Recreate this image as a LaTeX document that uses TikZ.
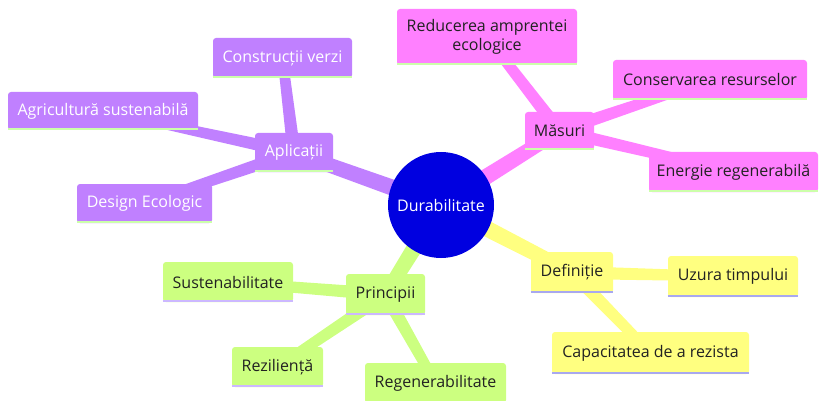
\documentclass[tikz,border=0pt]{standalone}
\usepackage{fontspec}
\setmainfont{Open Sans}
\usetikzlibrary{calc,backgrounds}
\definecolor{cpurple}{HTML}{C080FF}
\definecolor{cpink}{HTML}{FF80FF}
\definecolor{cyellow}{HTML}{FFFF80}
\definecolor{cgreen}{HTML}{CCFF80}
\definecolor{cblue}{HTML}{0000E0}
\definecolor{stripegreen}{HTML}{CCFFAA}
\definecolor{stripeblue}{HTML}{A8A8F0}
\definecolor{stripelav}{HTML}{CCB8FF}
\definecolor{txt}{HTML}{222222}
\newcommand\branch[5]{%
  \fill[#5] ($(#1)!#3!90:(#2)$) -- ($(#1)!#3!-90:(#2)$) -- ($(#2)!#4!90:(#1)$) -- ($(#2)!#4!-90:(#1)$) -- cycle;}
\tikzset{
  box/.style={rectangle, rounded corners=3pt, inner sep=0pt, align=center,
    font=\fontsize{16}{19}\selectfont},
  pbox/.style={box, fill=cpurple, text=white},
  kbox/.style={box, fill=cpink, text=txt},
  ybox/.style={box, fill=cyellow, text=txt},
  gbox/.style={box, fill=cgreen, text=txt},
  stripe/.style={line width=2.4pt},
}
\newcommand\mkstripe[2]{\draw[stripe,#2] ([yshift=1.2pt]#1.south west) -- ([yshift=1.2pt]#1.south east);}
\begin{document}
\begin{tikzpicture}[x=1pt,y=-1pt]
\useasboundingbox (0,0) rectangle (819,401);
% center
\node[circle, fill=cblue, text=white, minimum size=106pt, inner sep=0pt, font=\fontsize{16}{19}\selectfont] (dur) at (441,205) {Durabilitate};
% Aplicatii branch
\node[pbox, minimum width=78pt, minimum height=39pt] (apl) at (294,152.5) {Aplicații};
\node[pbox, minimum width=139pt, minimum height=40pt] (con) at (282.5,58) {Construcții verzi};
\node[pbox, minimum width=190pt, minimum height=38pt] (agr) at (103,111) {Agricultură sustenabilă};
\node[pbox, minimum width=135pt, minimum height=39pt] (des) at (144.5,203.5) {Design Ecologic};
% Masuri branch
\node[kbox, minimum width=69pt, minimum height=38pt] (mas) at (559.5,131) {Măsuri};
\node[kbox, minimum width=180pt, minimum height=56pt] (red) at (487,37) {Reducerea amprentei\\ecologice};
\node[kbox, minimum width=194pt, minimum height=40pt] (cons) at (710,80) {Conservarea resurselor};
\node[kbox, minimum width=169pt, minimum height=40pt] (ene) at (733.5,172) {Energie regenerabilă};
% Definitie branch
\node[ybox, minimum width=82pt, minimum height=41pt] (def) at (572,272.5) {Definiție};
\node[ybox, minimum width=130pt, minimum height=41pt] (uzu) at (733,276.5) {Uzura timpului};
\node[ybox, minimum width=197pt, minimum height=42pt] (cap) at (650.5,353) {Capacitatea de a rezista};
% Principii branch
\node[gbox, minimum width=79pt, minimum height=41pt] (pri) at (385.5,294.5) {Principii};
\node[gbox, minimum width=130pt, minimum height=40pt] (sus) at (228,282) {Sustenabilitate};
\node[gbox, minimum width=91pt, minimum height=40pt] (rez) at (277.5,367) {Reziliență};
\node[gbox, minimum width=141pt, minimum height=40pt] (reg) at (435.5,383) {Regenerabilitate};
% stripes
\mkstripe{apl}{stripegreen}\mkstripe{con}{stripegreen}\mkstripe{agr}{stripegreen}\mkstripe{des}{stripegreen}
\mkstripe{mas}{stripegreen}\mkstripe{red}{stripegreen}\mkstripe{cons}{stripegreen}\mkstripe{ene}{stripegreen}
\mkstripe{def}{stripeblue}\mkstripe{uzu}{stripeblue}\mkstripe{cap}{stripeblue}
\mkstripe{pri}{stripelav}\mkstripe{sus}{stripelav}\mkstripe{rez}{stripelav}\mkstripe{reg}{stripelav}
\begin{pgfonlayer}{background}
\branch{dur}{apl}{8.5pt}{7pt}{cpurple}
\branch{dur}{mas}{8.5pt}{7pt}{cpink}
\branch{dur}{def}{8.5pt}{7pt}{cyellow}
\branch{dur}{pri}{8.5pt}{7pt}{cgreen}
\branch{apl}{con}{6.5pt}{5pt}{cpurple}
\branch{apl}{agr}{6.5pt}{4pt}{cpurple}
\branch{apl}{des}{6.5pt}{4.5pt}{cpurple}
\branch{mas}{red}{6.5pt}{5pt}{cpink}
\branch{mas}{cons}{6.5pt}{4.5pt}{cpink}
\branch{mas}{ene}{6.5pt}{4.5pt}{cpink}
\branch{def}{uzu}{6.5pt}{5pt}{cyellow}
\branch{def}{cap}{6.5pt}{5pt}{cyellow}
\branch{pri}{sus}{6.5pt}{5pt}{cgreen}
\branch{pri}{rez}{6.5pt}{5pt}{cgreen}
\branch{pri}{reg}{6.5pt}{5pt}{cgreen}
\end{pgfonlayer}
\end{tikzpicture}
\end{document}
